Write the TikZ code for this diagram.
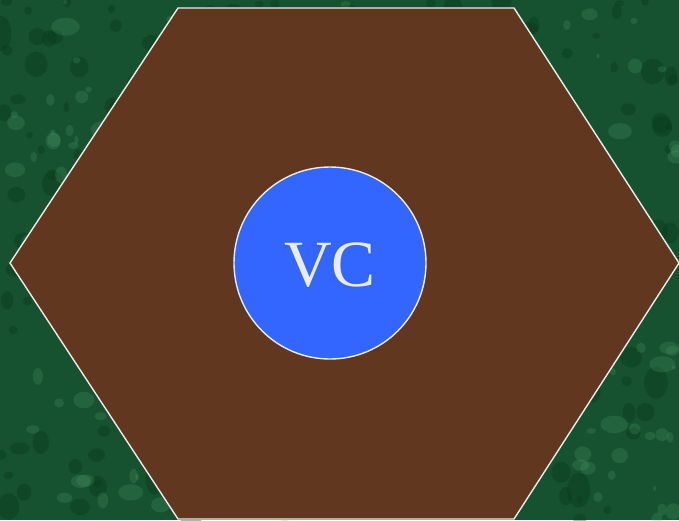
\documentclass[tikz,border=0pt]{standalone}
\usepackage{fontspec}
\setmainfont{Liberation Serif}
\usetikzlibrary{positioning}
\definecolor{marble}{HTML}{165230}
\definecolor{marblelight}{HTML}{5AA878}
\definecolor{marbledark}{HTML}{053817}
\definecolor{soil}{HTML}{623720}
\definecolor{vcblue}{HTML}{3366FF}
\definecolor{vctext}{HTML}{EBEBEB}
\tikzset{
    hexa/.style={draw=white!92!black,line width=1.4pt,fill=soil,line join=miter},
    core/.style={circle,draw=white!92!black,line width=1.4pt,fill=vcblue,minimum size=192pt,inner sep=0pt},
    vclabel/.style={text=vctext,font=\fontsize{66}{70}\selectfont}
}
\begin{document}
\begin{tikzpicture}[x=1pt,y=-1pt]
    \useasboundingbox (0,0) rectangle (679,520);
    % marble background
    \fill[marble] (0,0) rectangle (679,520);
    \pgfmathsetseed{11}
    \foreach \i in {1,...,260}{
        \pgfmathsetmacro{\xa}{rnd*679}
        \pgfmathsetmacro{\ya}{rnd*520}
        \pgfmathsetmacro{\ra}{3+rnd*9}
        \pgfmathsetmacro{\rb}{\ra*(0.6+rnd)}
        \fill[marbledark,opacity=0.35] (\xa,\ya) ellipse [x radius=\ra, y radius=\rb];
    }
    \foreach \i in {1,...,220}{
        \pgfmathsetmacro{\xa}{rnd*679}
        \pgfmathsetmacro{\ya}{rnd*520}
        \pgfmathsetmacro{\ra}{2+rnd*7}
        \pgfmathsetmacro{\rb}{\ra*(0.5+rnd*1.2)}
        \fill[marblelight,opacity=0.2] (\xa,\ya) ellipse [x radius=\rb, y radius=\ra];
    }
    \clip (0,0) rectangle (679,520);
    % hexagon and centre
    \draw[hexa] (178,8) -- (514,8) -- (679,263) -- (514,519) -- (178,519) -- (10,263) -- cycle;
    \node[core] (vc) at (330,263) {};
    \node[vclabel] (vctxt) at (330,265) {VC};
\end{tikzpicture}
\end{document}
